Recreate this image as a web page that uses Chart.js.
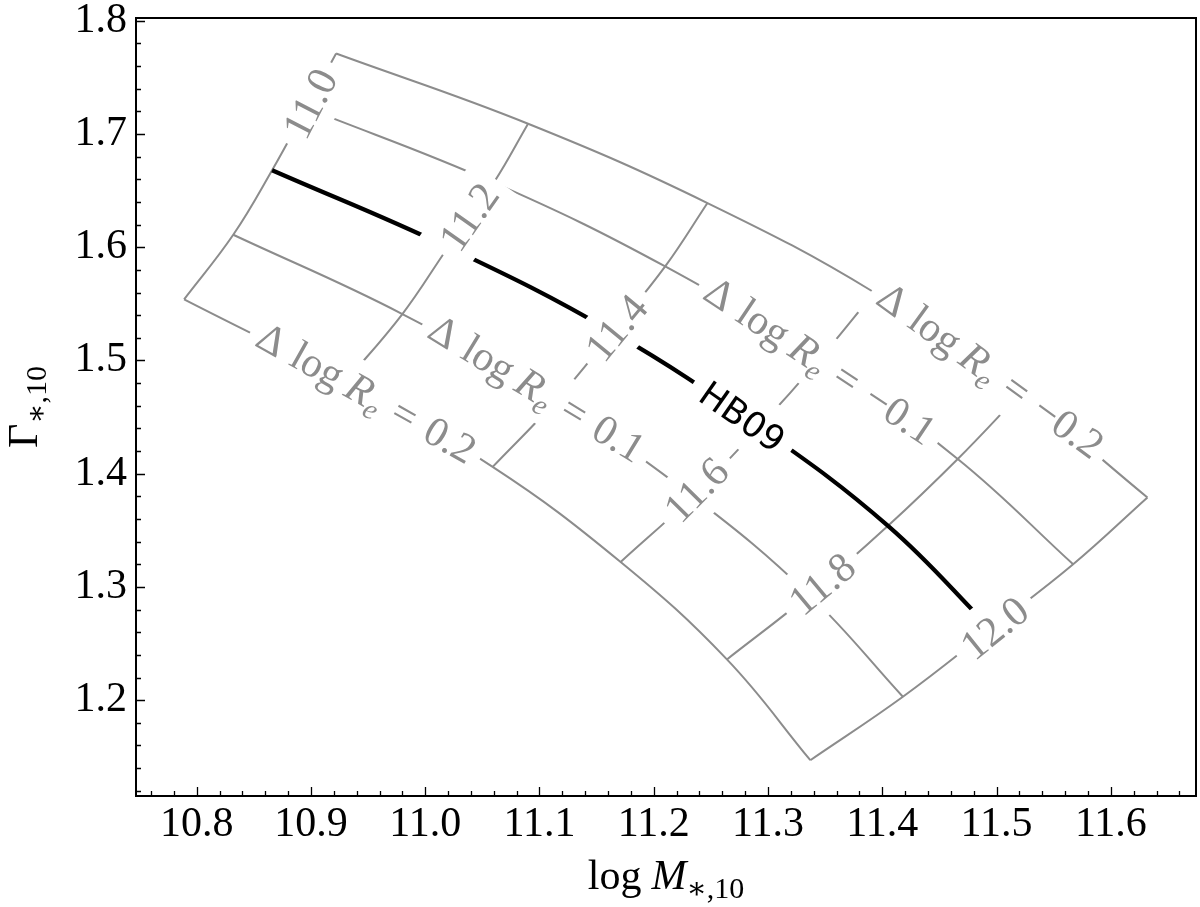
<!DOCTYPE html>
<html>
<head>
<meta charset="utf-8">
<script src="https://cdn.jsdelivr.net/npm/chart.js@4.4.1/dist/chart.umd.min.js"></script>
<style>
  html, body { margin: 0; padding: 0; background: #fff; }
</style>
</head>
<body>
<canvas id="myChart" width="1200" height="907"></canvas>
<script>
"use strict";

// Grid values
const massLabels = ["11.0", "11.2", "11.4", "11.6", "11.8", "12.0"];
const reLabels = ["\u22120.2", "\u22120.1", "0.1", "0.2"];

// Nodes of each constant Delta log Re line, one per mass above
const reM02X = [10.922, 11.090, 11.247, 11.393, 11.521, 11.632];
const reM02Y = [1.771, 1.709, 1.639, 1.560, 1.471, 1.379];
const reM01X = [10.896, 11.060, 11.210, 11.345, 11.466, 11.567];
const reM01Y = [1.723, 1.657, 1.583, 1.501, 1.413, 1.320];
const hb09X = [10.866, 11.020, 11.164, 11.292, 11.405, 11.495];
const hb09Y = [1.668, 1.600, 1.525, 1.441, 1.354, 1.263];
const reP01X = [10.832, 10.980, 11.114, 11.234, 11.336, 11.418];
const reP01Y = [1.611, 1.541, 1.464, 1.380, 1.293, 1.203];
const reP02X = [10.789, 10.930, 11.059, 11.171, 11.264, 11.337];
const reP02Y = [1.554, 1.481, 1.406, 1.322, 1.236, 1.147];

// Where the inline labels sit (data coords)
const massLabelX = [10.899, 11.038, 11.167, 11.237, 11.347, 11.498];
const massLabelY = [1.727, 1.627, 1.529, 1.386, 1.303, 1.264];
const reLabelX = [11.494, 11.345, 11.097, 10.948];
const reLabelY = [1.490, 1.4985, 1.474, 1.470];
const hbLabelX = 11.278;
const hbLabelY = 1.451;

// Axis ticks
const xTicks = [10.8, 10.9, 11.0, 11.1, 11.2, 11.3, 11.4, 11.5, 11.6];
const yTicks = [1.2, 1.3, 1.4, 1.5, 1.6, 1.7, 1.8];

const GRAY = "#8c8c8c";
const SERIF = "'Liberation Serif', 'DejaVu Serif', serif";
const massAngle = [-62.7, -55, -50.6, -45.4, -39.8, -38.8];
const reAngle = [36, 33.7, 31.4, 29.4];

function pts(xs, ys) {
    return xs.map((x, i) => ({ x: x, y: ys[i] }));
}

const datasets = [];
datasets.push({
    label: "HB09",
    data: pts(hb09X, hb09Y),
    borderColor: "#000",
    borderWidth: 4.2,
    showLine: true,
});
[[reM02X, reM02Y], [reM01X, reM01Y], [reP01X, reP01Y], [reP02X, reP02Y]].forEach((l) => {
    datasets.push({ data: pts(l[0], l[1]), borderColor: GRAY, borderWidth: 2, showLine: true });
});
massLabels.forEach((m, i) => {
    const xs = [reM02X[i], reM01X[i], hb09X[i], reP01X[i], reP02X[i]];
    const ys = [reM02Y[i], reM01Y[i], hb09Y[i], reP01Y[i], reP02Y[i]];
    datasets.push({ data: pts(xs, ys), borderColor: GRAY, borderWidth: 2, showLine: true });
});

// draw a list of text runs centred at (cx, cy) on a white box
function drawRuns(ctx, runs, cx, cy, angle, color, base, padX, halfH) {
    let w = 0;
    runs.forEach((r) => {
        ctx.font = r.font;
        r.w = ctx.measureText(r.text).width;
        w += r.w + (r.gap || 0);
    });
    ctx.save();
    ctx.translate(cx, cy);
    ctx.rotate(angle * Math.PI / 180);
    if (halfH) {
        ctx.fillStyle = "#fff";
        ctx.fillRect(-w / 2 - padX, -halfH, w + 2 * padX, 2 * halfH);
    }
    ctx.fillStyle = color;
    ctx.textBaseline = "alphabetic";
    ctx.textAlign = "left";
    let x = -w / 2;
    runs.forEach((r) => {
        ctx.font = r.font;
        ctx.fillText(r.text, x, base + (r.dy || 0));
        x += r.w + (r.gap || 0);
    });
    ctx.restore();
}

function reRuns(val) {
    return [
        { text: "\u0394", font: "42px " + SERIF, gap: 12 },
        { text: "log", font: "42px " + SERIF, gap: 9 },
        { text: "R", font: "italic 42px " + SERIF },
        { text: "e", font: "italic 29px " + SERIF, dy: 8, gap: 14 },
        { text: "=", font: "42px " + SERIF, gap: 14 },
        { text: val, font: "42px " + SERIF },
    ];
}

const overlay = {
    id: "overlay",
    afterDatasetsDraw(chart) {
        const ctx = chart.ctx;
        const xs = chart.scales.x, ys = chart.scales.y;
        massLabels.forEach((m, i) => {
            drawRuns(ctx, [{ text: m, font: "42px " + SERIF }],
                xs.getPixelForValue(massLabelX[i]), ys.getPixelForValue(massLabelY[i]),
                massAngle[i], GRAY, 14, 10, 29);
        });
        reLabels.forEach((v, i) => {
            drawRuns(ctx, reRuns(v),
                xs.getPixelForValue(reLabelX[i]), ys.getPixelForValue(reLabelY[i]),
                reAngle[i], GRAY, 12, 9, 29);
        });
        drawRuns(ctx, [{ text: "HB09", font: "35px 'DejaVu Sans', sans-serif" }],
            xs.getPixelForValue(hbLabelX), ys.getPixelForValue(hbLabelY),
            35, "#000", 13, 12, 30);
    },
    afterDraw(chart) {
        const ctx = chart.ctx;
        const a = chart.chartArea;
        const xs = chart.scales.x, ys = chart.scales.y;
        ctx.save();
        ctx.strokeStyle = "#000";
        ctx.lineWidth = 1.3;
        ctx.beginPath();
        for (let k = 0; k <= 50; k++) {
            const v = 10.74 + k * 0.02;
            if (v < xs.min || v > xs.max) continue;
            const major = Math.abs(v * 10 - Math.round(v * 10)) < 1e-6;
            const px = Math.round(xs.getPixelForValue(v)) + 0.5;
            ctx.moveTo(px, a.bottom);
            ctx.lineTo(px, a.bottom - (major ? 9 : 5));
        }
        for (let k = 0; k <= 40; k++) {
            const v = 1.10 + k * 0.02;
            if (v < ys.min || v > ys.max) continue;
            const major = Math.abs(v * 10 - Math.round(v * 10)) < 1e-6;
            const py = Math.round(ys.getPixelForValue(v)) + 0.5;
            ctx.moveTo(a.left, py);
            ctx.lineTo(a.left + (major ? 9 : 5), py);
        }
        ctx.stroke();
        ctx.lineWidth = 2;
        ctx.strokeRect(a.left, a.top, a.right - a.left, a.bottom - a.top);
        ctx.restore();

        // axis titles
        drawRuns(ctx, [
            { text: "log", font: "42px " + SERIF, gap: 10 },
            { text: "M", font: "italic 42px " + SERIF },
            { text: "\u2217,10", font: "30px " + SERIF, dy: 9 },
        ], (a.left + a.right) / 2, 889, 0, "#000", 0, 0, 0);
        drawRuns(ctx, [
            { text: "\u0393", font: "42px " + SERIF },
            { text: "\u2217,10", font: "30px " + SERIF, dy: 9 },
        ], 37, (a.top + a.bottom) / 2, -90, "#000", 0, 0, 0);
    },
};

function noOverflow(s) {
    s.paddingTop = 0;
    s.paddingBottom = 0;
    s.paddingLeft = 0;
    s.paddingRight = 0;
}

const config = {
    type: "scatter",
    data: { datasets: datasets },
    options: {
        responsive: false,
        animation: false,
        layout: { padding: { top: 18, right: 4, left: 0, bottom: 0 } },
        plugins: { legend: { display: false }, tooltip: { enabled: false } },
        elements: {
            point: { radius: 0, hoverRadius: 0 },
            line: { tension: 0.4, borderCapStyle: "butt", borderJoinStyle: "round" },
        },
        scales: {
            x: {
                type: "linear",
                bounds: "data",
                min: 10.7469,
                max: 11.6745,
                afterFit: (s) => { s.height = 111; noOverflow(s); },
                afterBuildTicks: (s) => { s.ticks = xTicks.map((v) => ({ value: v })); },
                ticks: {
                    callback: (v) => v.toFixed(1),
                    font: { family: SERIF, size: 42 },
                    color: "#000",
                    padding: 4,
                    maxRotation: 0,
                    autoSkip: false,
                },
                grid: { display: false, drawTicks: false },
                border: { display: false },
            },
            y: {
                type: "linear",
                bounds: "data",
                min: 1.1154,
                max: 1.8024,
                afterFit: (s) => { s.width = 136; noOverflow(s); },
                afterBuildTicks: (s) => { s.ticks = yTicks.map((v) => ({ value: v })); },
                ticks: {
                    callback: (v) => v.toFixed(1),
                    font: { family: SERIF, size: 42 },
                    color: "#000",
                    padding: 9,
                    autoSkip: false,
                },
                grid: { display: false, drawTicks: false },
                border: { display: false },
            },
        },
    },
    plugins: [overlay],
};

const myChart = new Chart(document.getElementById("myChart"), config);
</script>
</body>
</html>
